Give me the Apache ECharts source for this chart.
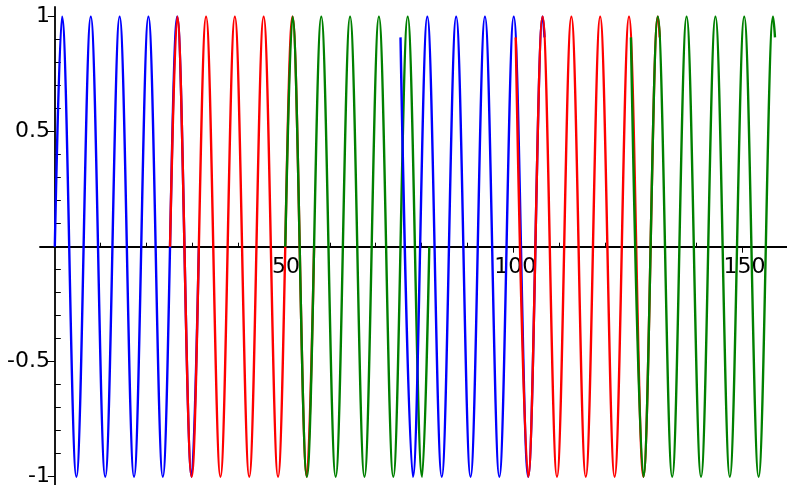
<!DOCTYPE html>
<html>
<head>
<meta charset="utf-8">
<script src="https://cdn.jsdelivr.net/npm/echarts@6/dist/echarts.min.js"></script>
<style>
  html, body { margin: 0; padding: 0; background: #fff; }
  #box { width: 787px; height: 485px; }
</style>
</head>
<body>
<div id="box"></div>
<script>
// peaks / troughs (x, y)
const blue1X = [0, 1.57, 4.71, 7.85, 11.00, 14.14, 17.28, 20.42, 23.56, 26.70, 29.85, 31.42]
const blue1Y = [0, 1, -1, 1, -1, 1, -1, 1, -1, 1, -1, 0]
const red1X = [25.13, 26.70, 29.85, 32.99, 36.13, 39.27, 42.41, 45.55, 48.69, 51.84, 54.98, 56.55]
const red1Y = [0, 1, -1, 1, -1, 1, -1, 1, -1, 1, -1, 0]
const green1X = [50.27, 51.84, 54.98, 58.12, 61.26, 64.40, 67.54, 70.69, 73.83, 76.97, 80.11, 81.68]
const green1Y = [0, 1, -1, 1, -1, 1, -1, 1, -1, 1, -1, 0]

const blue2X = [75.40, 78.11, 81.25, 84.40, 87.54, 90.68, 93.82, 96.96, 100.10, 103.25, 106.39, 106.81]
const blue2Y = [0.91, -1, 1, -1, 1, -1, 1, -1, 1, -1, 1, 0.91]
const red2X = [100.53, 103.25, 106.39, 109.53, 112.67, 115.81, 118.95, 122.10, 125.24, 128.38, 131.52, 131.95]
const red2Y = [0.91, -1, 1, -1, 1, -1, 1, -1, 1, -1, 1, 0.91]
const green2X = [125.66, 128.38, 131.52, 134.66, 137.80, 140.95, 144.09, 147.23, 150.37, 153.51, 156.65, 157.08]
const green2Y = [0.91, -1, 1, -1, 1, -1, 1, -1, 1, -1, 1, 0.91]

// ticks and labels
const xMajor = [50, 100, 150]
const xMinor = [10, 20, 30, 40, 60, 70, 80, 90, 110, 120, 130, 140]
const yMajor = [-1, -0.5, 0.5, 1]
const yMinor = [-0.9, -0.8, -0.7, -0.6, -0.4, -0.3, -0.2, -0.1, 0.1, 0.2, 0.3, 0.4, 0.6, 0.7, 0.8, 0.9]

const X_MIN = -3.23, X_MAX = 159.7
const Y_MIN = -1.036, Y_MAX = 1.042

function pts(xs, ys) {
    return xs.map((x, i) => [x, ys[i]])
}

function wave(name, xs, ys, color) {
    return {
        name: name,
        type: 'line',
        data: pts(xs, ys),
        showSymbol: false,
        smooth: 0.36,
        smoothMonotone: 'x',
        lineStyle: { color: color, width: 2.4 },
        itemStyle: { color: color },
        z: 3
    }
}

const font = { fontSize: 22, fontFamily: 'DejaVu Sans', color: '#000' }

let chart = window.echarts.init(document.getElementById('box'))
// labels of an onZero axis stay at the grid edge in v6, so the margins pull them back to the lines
let option = {
    animation: false,
    backgroundColor: '#fff',
    grid: { left: 40, right: 0, top: 7, bottom: 0, outerBoundsMode: 'none' },
    xAxis: [
        {
            type: 'value', min: X_MIN, max: X_MAX,
            axisLine: { onZero: true, onZeroAxisIndex: 0, lineStyle: { color: '#000', width: 1.8 } },
            axisTick: { customValues: xMajor, length: 6, lineStyle: { color: '#000' } },
            axisLabel: Object.assign({ customValues: xMajor, margin: -229, padding: [0, 0, 0, 4] }, font),
            splitLine: { show: false }
        },
        {
            // small ticks, pointing up
            type: 'value', position: 'top', min: X_MIN, max: X_MAX,
            axisLine: { show: false, onZero: true, onZeroAxisIndex: 0 },
            axisTick: { customValues: xMinor, length: 4, lineStyle: { color: '#000' } },
            axisLabel: { show: false },
            splitLine: { show: false }
        }
    ],
    yAxis: [
        {
            type: 'value', min: Y_MIN, max: Y_MAX,
            axisLine: { onZero: true, onZeroAxisIndex: 0, lineStyle: { color: '#000', width: 1.8 } },
            axisTick: { customValues: yMajor, length: 7, lineStyle: { color: '#000' } },
            axisLabel: Object.assign({ customValues: yMajor, margin: -10 }, font),
            splitLine: { show: false }
        },
        {
            // small ticks, pointing right
            type: 'value', position: 'right', min: Y_MIN, max: Y_MAX,
            axisLine: { show: false, onZero: true, onZeroAxisIndex: 0 },
            axisTick: { customValues: yMinor, length: 6, lineStyle: { color: '#000' } },
            axisLabel: { show: false },
            splitLine: { show: false }
        }
    ],
    series: [
        wave('blue1', blue1X, blue1Y, '#0000ff'),
        wave('red1', red1X, red1Y, '#ff0000'),
        wave('green1', green1X, green1Y, '#008000'),
        wave('blue2', blue2X, blue2Y, '#0000ff'),
        wave('red2', red2X, red2Y, '#ff0000'),
        wave('green2', green2X, green2Y, '#008000')
    ]
}
chart.setOption(option)
</script>
</body>
</html>
